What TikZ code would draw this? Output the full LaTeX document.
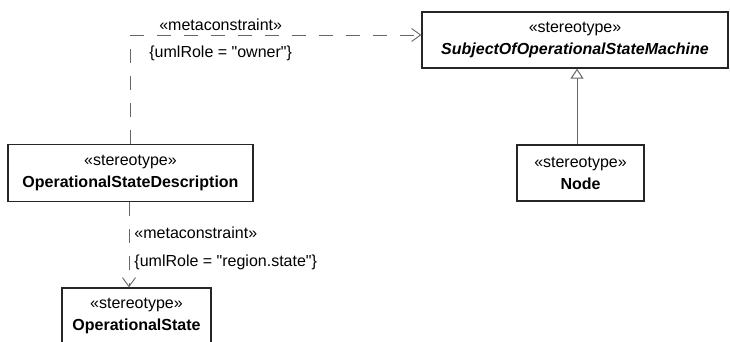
\documentclass[tikz,border=0pt]{standalone}
\usepackage{fontspec}
\setmainfont{Liberation Sans}
\usetikzlibrary{arrows.meta, positioning, calc}

\begin{document}
\begin{tikzpicture}[
    x=1pt, y=-1pt,
    stereo/.style={draw=black!85, line width=1.3pt, fill=white, align=center,
        inner sep=0pt, font=\fontsize{16}{22}\selectfont},
    dep/.style={draw=black!60, line width=0.9pt, dash pattern=on 14pt off 13pt,
        -{Straight Barb[length=9pt, width=13pt]}},
    gen/.style={draw=black!60, line width=1pt,
        -{Triangle[open, length=10pt, width=13pt, fill=white]}},
    lbl/.style={font=\fontsize{16}{18}\selectfont, inner sep=1pt},
]
    \useasboundingbox (0,0) rectangle (730,341);
    \clip (0,0) rectangle (730,341);

    \node[stereo, minimum width=306pt, minimum height=56pt] (subj) at (575,40)
        {«stereotype»\\\textbf{\textit{SubjectOfOperationalStateMachine}}};
    \node[stereo, minimum width=127pt, minimum height=56pt] (nd) at (580.5,173)
        {«stereotype»\\\textbf{Node}};
    \node[stereo, minimum width=245pt, minimum height=57pt] (osd) at (130.5,173)
        {«stereotype»\\\textbf{OperationalStateDescription}};
    \node[stereo, minimum width=149pt, minimum height=56pt] (os) at (136.5,316)
        {«stereotype»\\\textbf{OperationalState}};

    % metaconstraints
    \draw[dep] (osd.north) |- ($(subj.west)+(0,-5)$)
        node[lbl, above, pos=0.655, yshift=3pt] {«metaconstraint»}
        node[lbl, below, pos=0.655, yshift=-9pt] {\{umlRole = \textquotedbl owner\textquotedbl\}};
    \draw[dep] ([xshift=-1.5pt]osd.south) -- ([xshift=-1.5pt]osd.south |- os.north)
        node[lbl, right, pos=0.36, xshift=4pt] {«metaconstraint»}
        node[lbl, right, pos=0.71, xshift=4pt] {\{umlRole = \textquotedbl region.state\textquotedbl\}};

    % generalization
    \draw[gen] ([xshift=-3.5pt]nd.north) -- ([xshift=-3.5pt]nd.north |- subj.south);
\end{tikzpicture}
\end{document}
